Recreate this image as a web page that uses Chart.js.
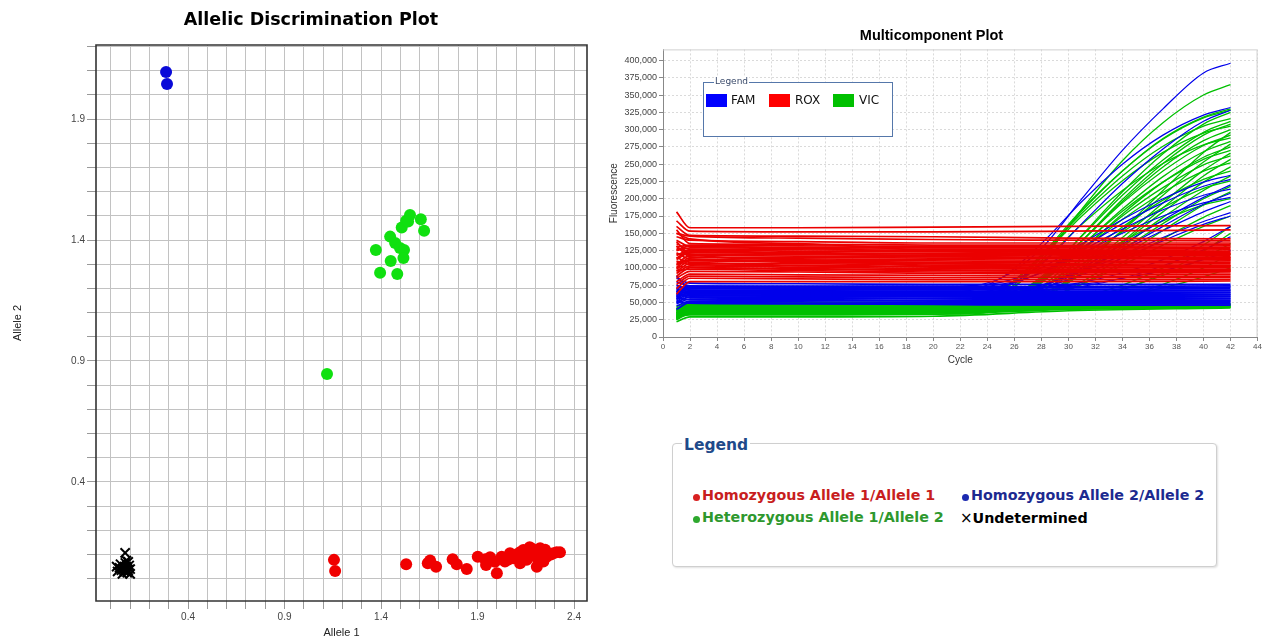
<!DOCTYPE html>
<html>
<head>
<meta charset="utf-8">
<script src="https://cdn.jsdelivr.net/npm/chart.js@4.4.1/dist/chart.umd.min.js"></script>
<style>
  body { margin: 0; background: #fff; width: 1263px; height: 636px; overflow: hidden; position: relative; font-family: "Liberation Sans", Arial, sans-serif; }
  #leftWrap { position: absolute; left: 0; top: 0; width: 600px; height: 636px; }
  #rightWrap { position: absolute; left: 600px; top: 20px; width: 663px; height: 350px; }
  #dyeLegend { position: absolute; left: 703px; top: 82px; width: 188px; height: 53px; border: 1.5px solid #5577aa; background: #fff; }
  #dyeLegend .ttl { position: absolute; left: 10px; top: -7px; padding: 0 1px; background: #fff; font: 9px "DejaVu Sans", sans-serif; color: #3a4a6a; }
  #dyeLegend .sw { position: absolute; top: 11px; width: 21px; height: 13px; }
  #dyeLegend .nm { position: absolute; top: 10px; font: 12px "DejaVu Sans", sans-serif; color: #111; }
  #genoLegend { position: absolute; left: 672px; top: 443px; width: 543px; height: 122px; border: 1px solid #cfcfcf; border-radius: 4px; box-shadow: 1px 1px 2px rgba(0,0,0,0.12); background: #fff; }
  #genoLegend .ttl { position: absolute; left: 9px; top: -8px; padding: 0 2px; background: #fff; font: bold 15.5px "DejaVu Sans", sans-serif; color: #1f4a8a; }
  #genoLegend .item { position: absolute; font: bold 14.3px "DejaVu Sans", sans-serif; white-space: nowrap; }
  #genoLegend .dot { display: inline-block; width: 7px; height: 7px; border-radius: 50%; margin-right: 2px; vertical-align: -1px; }
</style>
</head>
<body>
<div id="leftWrap"><canvas id="alleleChart" width="600" height="636"></canvas></div>
<div id="rightWrap"><canvas id="multiChart" width="663" height="350"></canvas></div>

<div id="dyeLegend">
  <span class="ttl">Legend</span>
  <span class="sw" style="left:2px;background:#0000ff"></span><span class="nm" style="left:27px">FAM</span>
  <span class="sw" style="left:65px;background:#ff0000"></span><span class="nm" style="left:91px">ROX</span>
  <span class="sw" style="left:129px;background:#00c000"></span><span class="nm" style="left:155px">VIC</span>
</div>

<div id="genoLegend">
  <span class="ttl">Legend</span>
  <span class="item" style="left:20px;top:43px;color:#c81e1e"><span class="dot" style="background:#d82020"></span>Homozygous Allele 1/Allele 1</span>
  <span class="item" style="left:289px;top:43px;color:#1c2a90"><span class="dot" style="background:#1c2ab0"></span>Homozygous Allele 2/Allele 2</span>
  <span class="item" style="left:20px;top:65px;color:#2e982e"><span class="dot" style="background:#2ea82e"></span>Heterozygous Allele 1/Allele 2</span>
  <span class="item" style="left:287px;top:65px;color:#000"><span style="font-weight:normal;font-size:15px">×</span>Undetermined</span>
</div>

<script>
// ---------------------------------------------------------
// ALLELIC DISCRIMINATION DATA (Allele 1 on x, Allele 2 on y)
// ---------------------------------------------------------
const homo1X = [1.156, 1.162, 1.530, 1.642, 1.654, 1.685, 1.771, 1.792, 1.844, 1.901,
                1.939, 1.944, 1.965, 1.990, 2.000, 2.025, 2.042, 2.060, 2.068, 2.085,
                2.100, 2.120, 2.120, 2.137, 2.140, 2.155, 2.163, 2.170, 2.180, 2.189,
                2.200, 2.207, 2.210, 2.224, 2.230, 2.241, 2.250, 2.258, 2.280, 2.293,
                2.310, 2.327];
const homo1Y = [0.078, 0.032, 0.060, 0.064, 0.075, 0.050, 0.081, 0.060, 0.040, 0.091,
                0.081, 0.057, 0.089, 0.070, 0.023, 0.091, 0.071, 0.080, 0.105, 0.085,
                0.100, 0.064, 0.110, 0.119, 0.090, 0.078, 0.098, 0.130, 0.125, 0.112,
                0.100, 0.050, 0.085, 0.126, 0.110, 0.071, 0.120, 0.091, 0.100, 0.105,
                0.110, 0.109];
const homo2X = [0.286, 0.291];
const homo2Y = [2.094, 2.045];
const heteroX = [1.120, 1.373, 1.395, 1.447, 1.450, 1.473, 1.484, 1.498, 1.519, 1.516, 1.507, 1.530, 1.550, 1.540, 1.606, 1.623];
const heteroY = [0.846, 1.359, 1.265, 1.414, 1.313, 1.388, 1.260, 1.367, 1.359, 1.326, 1.452, 1.480, 1.503, 1.476, 1.486, 1.438];
const undetX = [0.074, 0.030, 0.035, 0.050, 0.080, 0.090, 0.070, 0.100, 0.060, 0.085, 0.095, 0.045, 0.075, 0.100, 0.065, 0.090, 0.080, 0.055];
const undetY = [0.107, 0.050, 0.030, 0.060, 0.050, 0.070, 0.030, 0.040, 0.020, 0.025, 0.055, 0.045, 0.065, 0.020, 0.040, 0.035, 0.075, 0.035];
const xTickLabels = [0.4, 0.9, 1.4, 1.9, 2.4];
const yTickLabels = [0.4, 0.9, 1.4, 1.9];

// ---------------------------------------------------------
// MULTICOMPONENT DATA (fluorescence in thousands per cycle)
// ---------------------------------------------------------
const flatCycles = [1, 2, 10, 20, 30, 42];
const ampCycles = [1, 2, 22, 25, 28, 31, 34, 37, 40, 42];
const fluorTicks = [0, 25000, 50000, 75000, 100000, 125000, 150000, 175000, 200000,
                    225000, 250000, 275000, 300000, 325000, 350000, 375000, 400000];

const roxCurves = [
  [181, 158, 158, 159, 160, 161], [168, 153, 152, 152, 153, 155], [160, 147, 146, 145, 143, 142],
  [150, 146, 143, 141, 140, 139], [145, 140, 138, 136, 136, 136], [155, 135, 134, 133, 133, 134],
  [130, 133, 132, 131, 131, 132], [140, 131, 130, 129, 129, 130], [125, 129, 128, 127, 127, 128],
  [135, 127, 126, 125, 125, 126], [118, 126, 124, 123, 123, 124], [128, 124, 122, 121, 121, 122],
  [112, 122, 121, 120, 119, 120], [120, 120, 119, 118, 117, 118], [105, 118, 117, 116, 115, 116],
  [132, 116, 115, 114, 113, 114], [100, 115, 113, 112, 111, 112], [122, 113, 111, 110, 109, 110],
  [108, 111, 110, 108, 107, 108], [98, 110, 108, 106, 105, 106], [115, 108, 106, 104, 103, 104],
  [95, 106, 104, 102, 101, 102], [110, 105, 103, 101, 100, 100], [92, 103, 101, 99, 98, 98],
  [102, 101, 99, 97, 96, 96], [88, 100, 98, 96, 95, 95], [96, 98, 96, 94, 93, 94],
  [85, 95, 94, 92, 91, 91], [80, 91, 90, 89, 88, 88], [76, 88, 87, 86, 86, 86],
  [70, 85, 84, 83, 83, 83], [62, 80, 80, 80, 80, 81], [150, 142, 135, 125, 118, 112],
  [138, 120, 112, 102, 98, 97], [126, 132, 128, 124, 122, 121], [114, 125, 121, 117, 115, 115],
  [104, 112, 109, 106, 104, 103]
];
const famFlat = [
  [85, 78, 77, 76, 76, 76], [80, 74, 73, 73, 73, 74], [72, 72, 71, 71, 71, 72], [88, 71, 70, 69, 69, 70],
  [65, 70, 69, 68, 68, 68], [75, 68, 67, 66, 66, 67], [60, 67, 66, 65, 65, 65], [70, 66, 65, 64, 63, 64],
  [58, 64, 63, 62, 62, 62], [68, 63, 62, 61, 60, 61], [55, 61, 60, 59, 59, 59], [62, 60, 59, 58, 57, 58],
  [50, 58, 57, 56, 56, 56], [66, 57, 56, 55, 54, 55], [48, 55, 54, 53, 53, 53], [57, 54, 53, 52, 51, 52],
  [45, 52, 51, 50, 50, 50], [40, 50, 49, 48, 48, 48], [52, 49, 48, 47, 46, 46]
];
const famAmp = [
  [60, 72, 73, 85, 128, 200, 270, 330, 382, 396], [55, 66, 66, 85, 135, 196, 250, 292, 321, 332],
  [58, 63, 63, 71, 105, 164, 222, 272, 312, 328], [70, 74, 74, 79, 100, 135, 170, 200, 224, 234],
  [62, 68, 68, 73, 94, 129, 164, 194, 218, 228], [52, 60, 60, 62, 73, 100, 134, 169, 202, 220],
  [65, 70, 70, 74, 93, 125, 156, 184, 205, 214], [50, 58, 58, 60, 70, 96, 127, 160, 192, 208],
  [68, 72, 72, 76, 93, 121, 150, 175, 194, 202], [56, 64, 64, 65, 75, 97, 125, 154, 181, 196],
  [60, 66, 66, 67, 75, 95, 118, 144, 167, 180], [54, 62, 62, 63, 71, 90, 114, 139, 163, 175],
  [63, 70, 70, 70, 72, 79, 93, 112, 138, 160], [58, 65, 65, 65, 67, 73, 85, 103, 126, 145],
  [66, 71, 71, 71, 72, 76, 85, 96, 112, 125]
];
const vicFlat = [
  [25, 38, 38, 39, 43, 45], [30, 36, 36, 37, 42, 44], [27, 34, 34, 35, 41, 44], [35, 42, 42, 43, 45, 47],
  [32, 40, 40, 41, 44, 46], [40, 45, 45, 45, 46, 47], [38, 44, 44, 44, 46, 48], [29, 32, 32, 33, 40, 43],
  [22, 29, 29, 30, 38, 42]
];
const vicAmp = [
  [30, 42, 42, 58, 110, 185, 255, 310, 350, 365], [28, 40, 40, 60, 115, 182, 240, 287, 318, 330],
  [35, 45, 45, 65, 119, 184, 240, 286, 317, 328], [26, 38, 38, 47, 84, 147, 210, 265, 308, 325],
  [40, 48, 48, 67, 118, 179, 233, 276, 305, 316], [33, 44, 44, 52, 87, 146, 205, 256, 296, 312],
  [29, 36, 36, 44, 80, 139, 199, 251, 292, 308], [42, 50, 50, 68, 116, 175, 226, 267, 295, 305],
  [31, 41, 41, 49, 82, 139, 196, 246, 284, 300], [27, 35, 35, 38, 56, 100, 155, 212, 267, 296],
  [38, 46, 46, 53, 85, 139, 194, 240, 277, 292], [34, 43, 43, 60, 107, 163, 212, 251, 278, 288],
  [30, 39, 39, 46, 78, 132, 185, 232, 268, 283], [36, 47, 47, 49, 66, 105, 154, 205, 253, 279],
  [25, 33, 33, 40, 72, 125, 178, 224, 260, 275], [41, 49, 49, 56, 84, 133, 182, 224, 257, 270],
  [32, 40, 40, 42, 58, 97, 144, 194, 241, 266], [37, 45, 45, 52, 80, 127, 175, 216, 249, 262],
  [28, 37, 37, 39, 55, 92, 138, 187, 233, 257], [39, 48, 48, 54, 81, 126, 170, 209, 240, 252],
  [33, 42, 42, 44, 58, 93, 136, 181, 224, 246], [29, 38, 38, 44, 70, 115, 159, 198, 228, 240],
  [35, 44, 44, 46, 59, 91, 131, 173, 212, 233], [31, 41, 41, 47, 71, 111, 152, 187, 215, 226],
  [44, 50, 50, 52, 63, 92, 127, 164, 200, 218], [27, 36, 36, 38, 50, 80, 116, 154, 191, 210],
  [36, 46, 46, 51, 71, 105, 138, 168, 191, 200], [30, 39, 39, 41, 51, 77, 108, 142, 173, 190],
  [34, 43, 43, 44, 54, 76, 104, 133, 160, 175], [38, 47, 47, 47, 49, 58, 75, 100, 133, 160],
  [32, 40, 40, 40, 42, 51, 68, 92, 124, 150], [40, 48, 48, 48, 50, 57, 70, 89, 114, 135],
  [28, 37, 37, 37, 39, 45, 58, 76, 100, 120], [35, 45, 45, 45, 46, 51, 59, 71, 87, 100]
];

// ---------------------------------------------------------
// HELPERS
// ---------------------------------------------------------
const pairUp = (xs, ys) => xs.map((x, i) => ({ x: x, y: ys[i] }));
const gridSteps = (from, to) => { const out = []; for (let k = from; k <= to; k++) out.push({ value: k / 10 }); return out; };
const labelIf = (v, list) => list.some(l => Math.abs(l - v) < 1e-6) ? v.toFixed(1) : '';

function curveSet(curves, cycles, color, width) {
  return curves.map(vals => ({
    data: cycles.map((c, i) => ({ x: c, y: vals[i] * 1000 })),
    borderColor: color,
    borderWidth: width,
    pointRadius: 0,
    cubicInterpolationMode: 'monotone',
    fill: false
  }));
}

// draws a box (or top/right edges) around the plot area
const framePlugin = {
  id: 'frame',
  afterDraw(chart, args, opts) {
    const { ctx, chartArea: a } = chart;
    ctx.save();
    ctx.strokeStyle = opts.color;
    ctx.lineWidth = opts.width;
    ctx.beginPath();
    if (opts.all) {
      ctx.rect(a.left, a.top, a.right - a.left, a.bottom - a.top);
    } else {
      ctx.moveTo(a.left, a.top + 0.5);
      ctx.lineTo(a.right - 0.5, a.top + 0.5);
      ctx.lineTo(a.right - 0.5, a.bottom);
    }
    ctx.stroke();
    ctx.restore();
  }
};

// ---------------------------------------------------------
// ALLELIC DISCRIMINATION PLOT
// ---------------------------------------------------------
const dotStyle = color => ({ backgroundColor: color, borderColor: color, pointRadius: 6, pointHoverRadius: 6, borderWidth: 0 });

new Chart(document.getElementById('alleleChart'), {
  type: 'scatter',
  data: {
    datasets: [
      Object.assign({ label: 'Undetermined', data: pairUp(undetX, undetY), pointStyle: 'crossRot', borderColor: '#000', pointRadius: 6.5, borderWidth: 2 }),
      Object.assign({ label: 'Homozygous Allele 1/Allele 1', data: pairUp(homo1X, homo1Y) }, dotStyle('#f00000')),
      Object.assign({ label: 'Heterozygous Allele 1/Allele 2', data: pairUp(heteroX, heteroY) }, dotStyle('#10e010')),
      Object.assign({ label: 'Homozygous Allele 2/Allele 2', data: pairUp(homo2X, homo2Y) }, dotStyle('#0a0ad8'))
    ]
  },
  options: {
    responsive: false,
    animation: false,
    devicePixelRatio: 1,
    layout: { padding: { left: 35, right: 13, top: 4, bottom: 0 } },
    plugins: {
      legend: { display: false },
      tooltip: { enabled: false },
      title: {
        display: true,
        text: 'Allelic Discrimination Plot',
        color: '#000',
        font: { family: 'DejaVu Sans', size: 17.5, weight: 'bold' },
        padding: { top: 6, bottom: 14 }
      },
      frame: { color: '#333', width: 1.6, all: true }
    },
    scales: {
      x: {
        type: 'linear', min: -0.077, max: 2.467,
        afterBuildTicks: s => { s.ticks = gridSteps(0, 24); },
        afterFit: s => { s.height = 35; },
        grid: { color: '#c2c2c2', lineWidth: 1, tickLength: 8, tickColor: '#999' },
        border: { display: false },
        ticks: {
          autoSkip: false, maxRotation: 0, padding: 2, color: '#444',
          font: { family: 'Liberation Sans', size: 10 },
          callback: v => labelIf(v, xTickLabels)
        },
        title: { display: true, text: 'Allele 1', color: '#222', font: { family: 'Liberation Sans', size: 11 }, padding: { top: 0, bottom: -4 } }
      },
      y: {
        type: 'linear', min: -0.092, max: 2.206,
        afterBuildTicks: s => { s.ticks = gridSteps(0, 22); },
        afterFit: s => { s.width = 61; },
        grid: { color: '#c2c2c2', lineWidth: 1, tickLength: 9, tickColor: '#999' },
        border: { display: false },
        ticks: {
          autoSkip: false, padding: 2, color: '#444',
          font: { family: 'Liberation Sans', size: 10 },
          callback: v => labelIf(v, yTickLabels)
        },
        title: { display: true, text: 'Allele 2', color: '#222', font: { family: 'Liberation Sans', size: 11 }, padding: { top: -23.6, bottom: 0 } }
      }
    }
  },
  plugins: [framePlugin]
});

// ---------------------------------------------------------
// MULTICOMPONENT PLOT
// ---------------------------------------------------------
const RED = 'rgb(235,0,0)';
const BLUE = 'rgb(0,0,235)';
const GREEN = 'rgb(0,192,0)';

new Chart(document.getElementById('multiChart'), {
  type: 'line',
  data: {
    datasets: [
      ...curveSet(roxCurves, flatCycles, RED, 1.7),
      ...curveSet(famFlat, flatCycles, BLUE, 1.7),
      ...curveSet(famAmp, ampCycles, BLUE, 1.2),
      ...curveSet(vicFlat, flatCycles, GREEN, 1.7),
      ...curveSet(vicAmp, ampCycles, GREEN, 1.3)
    ]
  },
  options: {
    responsive: false,
    animation: false,
    devicePixelRatio: 1,
    layout: { padding: { left: 5, right: 5, top: 0, bottom: 0 } },
    plugins: {
      legend: { display: false },
      tooltip: { enabled: false },
      title: {
        display: true,
        text: 'Multicomponent Plot',
        color: '#000',
        font: { family: 'Liberation Sans', size: 14.5, weight: 'bold' },
        padding: { top: 7, bottom: 5 }
      },
      frame: { color: '#d0d0d0', width: 1, all: false }
    },
    scales: {
      x: {
        type: 'linear', min: 0, max: 44,
        afterFit: s => { s.height = 33; },
        grid: { color: '#dadada', lineWidth: 1, tickLength: 4, tickColor: '#888' },
        border: { color: '#888', width: 1, dash: [2, 2] },
        ticks: { stepSize: 2, autoSkip: false, maxRotation: 0, padding: 1, color: '#555', font: { family: 'Liberation Sans', size: 8 } },
        title: { display: true, text: 'Cycle', color: '#333', font: { family: 'Liberation Sans', size: 10 }, padding: { top: 0, bottom: 4 } }
      },
      y: {
        type: 'linear', min: 0, max: 416000,
        afterBuildTicks: s => { s.ticks = fluorTicks.map(v => ({ value: v })); },
        afterFit: s => { s.width = 58; },
        grid: { color: '#dadada', lineWidth: 1, tickLength: 4, tickColor: '#888' },
        border: { color: '#888', width: 1, dash: [2, 2] },
        ticks: { autoSkip: false, padding: 2, color: '#444', font: { family: 'Liberation Sans', size: 9 }, callback: v => v.toLocaleString('en-US') },
        title: { display: true, text: 'Fluorescence', color: '#333', font: { family: 'Liberation Sans', size: 10 }, padding: { top: 3, bottom: 0 } }
      }
    }
  },
  plugins: [framePlugin]
});
</script>
</body>
</html>
